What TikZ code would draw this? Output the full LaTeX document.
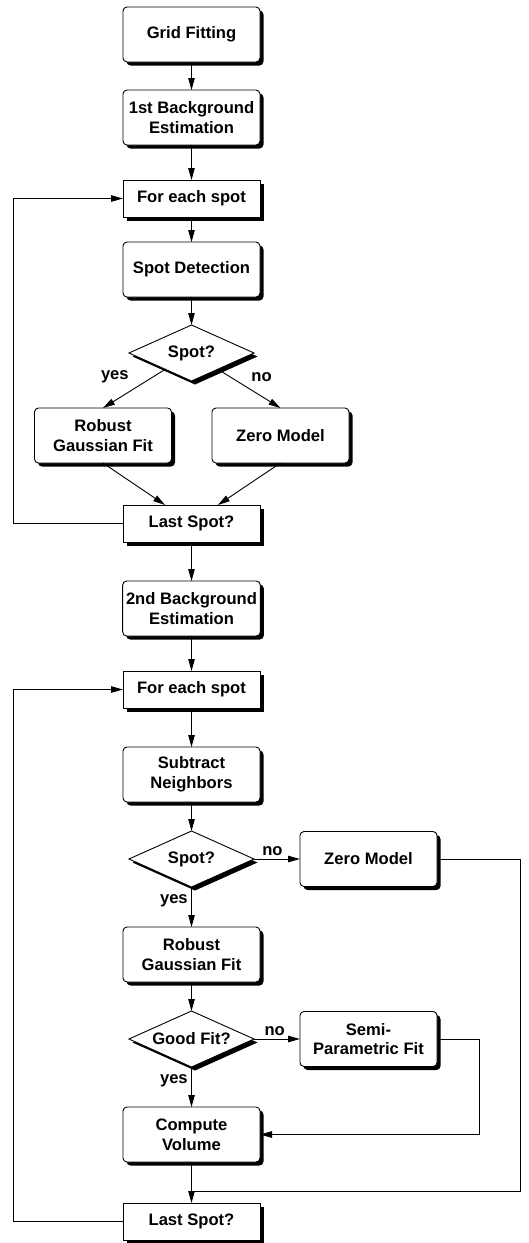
\documentclass[tikz,border=0pt]{standalone}
\usepackage{fontspec}
\setmainfont{Liberation Sans}
\usetikzlibrary{positioning,shapes.geometric,shadows,arrows.meta}

\begin{document}
\begin{tikzpicture}[
    every node/.style={font=\fontsize{16.6pt}{19.7pt}\selectfont\bfseries},
    shade/.style={drop shadow={shadow xshift=3.5pt, shadow yshift=-3.5pt, fill=black, opacity=1}},
    rbox/.style={rectangle, rounded corners=4pt, draw=black, fill=white, line width=0.9pt,
        minimum width=137pt, minimum height=55pt, outer sep=0pt, align=center, shade},
    sbox/.style={rbox, sharp corners, minimum height=37pt},
    decision/.style={diamond, draw=black, fill=white, line width=0.9pt, aspect=2.23,
        inner sep=0pt, outer sep=0pt, minimum width=125pt, minimum height=56pt, shade},
    arr/.style={-{Triangle[length=12pt,width=6.5pt]}, line width=0.9pt},
    lbl/.style={inner sep=5pt}]
    \useasboundingbox (0,0) rectangle (529pt,-1243pt);

    % Nodes
    \node[rbox] (grid) at (191.5pt,-34.5pt) {Grid Fitting};
    \node[rbox] (bg1) [below=28pt of grid] {1st Background\\Estimation};
    \node[sbox] (each1) [below=35pt of bg1] {For each spot};
    \node[rbox] (detect) [below=25pt of each1] {Spot Detection};
    \node[decision] (spot1) [below=28pt of detect] {Spot?};
    \node[rbox] (gauss1) [below=27pt of spot1, xshift=-88.5pt] {Robust\\Gaussian Fit};
    \node[rbox] (zero1) [below=27pt of spot1, xshift=89pt] {Zero Model};
    \node[sbox] (last1) [below=124pt of spot1] {Last Spot?};

    \node[rbox] (bg2) [below=39pt of last1] {2nd Background\\Estimation};
    \node[sbox] (each2) [below=35pt of bg2] {For each spot};
    \node[rbox] (subtract) [below=39pt of each2] {Subtract\\Neighbors};
    \node[decision] (spot2) [below=29pt of subtract] {Spot?};
    \node[rbox] (zero2) [right=46pt of spot2] {Zero Model};
    \node[rbox] (gauss2) [below=40pt of spot2] {Robust\\Gaussian Fit};
    \node[decision] (goodfit) [below=29pt of gauss2] {Good Fit?};
    \node[rbox] (semi) [right=46pt of goodfit] {Semi-\\Parametric Fit};
    \node[rbox] (volume) [below=40pt of goodfit] {Compute\\Volume};
    \node[sbox] (last2) [below=41pt of volume] {Last Spot?};

    \coordinate (leftside) at (13pt,0);
    \coordinate (rightsemi) at (479pt,0);
    \coordinate (rightzero) at (520pt,0);
    \coordinate (join) at (191.5pt,-1191pt);

    % Arrows
    \draw[arr] (grid) -- (bg1);
    \draw[arr] (bg1) -- (each1);
    \draw[arr] (each1) -- (detect);
    \draw[arr] (detect) -- (spot1);
    \draw[arr] (spot1) -- node[above left, pos=0.5, lbl] {yes} (gauss1.north);
    \draw[arr] (spot1) -- node[above right, pos=0.45, lbl] {no} (zero1.north);
    \draw[arr] (gauss1.south) -- (last1.145);
    \draw[arr] (zero1.south) -- (last1.35);
    \draw[arr] (last1.west) -- (last1.west -| leftside) |- (each1.west);

    \draw[arr] (last1) -- (bg2);
    \draw[arr] (bg2) -- (each2);
    \draw[arr] (each2) -- (subtract);
    \draw[arr] (subtract) -- (spot2);
    \draw[arr] (spot2) -- node[above, pos=0.4] {no} (zero2);
    \draw[arr] (spot2) -- node[left, pos=0.35] {yes} (gauss2);
    \draw[arr] (gauss2) -- (goodfit);
    \draw[arr] (goodfit) -- node[above, pos=0.45] {no} (semi);
    \draw[arr] (goodfit) -- node[left, pos=0.35] {yes} (volume);
    \draw[arr] (semi.east) -- (semi.east -| rightsemi) |- (volume.east);
    \draw[line width=0.9pt] (zero2.east) -- (zero2.east -| rightzero) |- (join);
    \draw[arr] (volume) -- (last2);
    \draw[arr] (last2.west) -- (last2.west -| leftside) |- (each2.west);
\end{tikzpicture}
\end{document}
